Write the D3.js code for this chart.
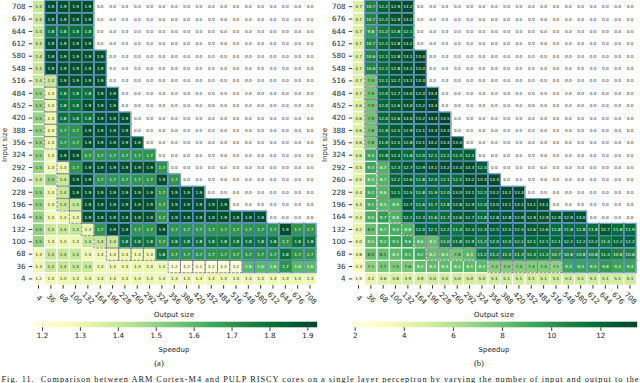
<!DOCTYPE html>
<html><head><meta charset="utf-8">
<script src="https://cdn.jsdelivr.net/npm/d3@7"></script>
<style>
html,body{margin:0;padding:0;background:#fff;overflow:hidden}
svg{display:block}
text{font-family:"DejaVu Sans",sans-serif;fill:#262626}
.domain{display:none}
</style></head><body>
<svg id="c" width="640" height="383"></svg>
<script>
const outputSizes = [4,36,68,100,132,164,196,228,260,292,324,356,388,420,452,484,516,548,580,612,644,676,708];
const inputSizes = [708,676,644,612,580,548,516,484,452,420,388,356,324,292,260,228,196,164,132,100,68,36,4];
const ylGnColors = ["#ffffe5","#f7fcb9","#d9f0a3","#addd8e","#78c679","#41ab5d","#238443","#006837","#004529"];
// leading non-zero values of each input-size row, remaining output sizes are 0.0
const speedupA = [
[1.4,1.9,1.9,1.9,1.9],
[1.4,1.9,1.9,1.9,1.9],
[1.4,1.8,1.8,1.8,1.8],
[1.4,1.9,1.9,1.9,1.9],
[1.4,1.9,1.9,1.9,1.9,1.9],
[1.4,1.9,1.9,1.9,1.9,1.9],
[1.4,1.4,1.9,1.9,1.9,1.9],
[1.5,1.3,1.8,1.8,1.8,1.9,1.9],
[1.5,1.3,1.8,1.8,1.9,1.9,1.9],
[1.5,1.3,1.8,1.8,1.8,1.9,1.9,1.9],
[1.5,1.3,1.7,1.7,1.9,1.9,1.9,1.9],
[1.5,1.3,1.7,1.7,1.9,1.9,1.9,1.9,1.9],
[1.5,1.3,1.9,1.9,1.7,1.7,1.7,1.7,1.7,1.7],
[1.5,1.3,1.3,1.7,1.9,1.9,1.9,1.9,1.9,1.9,1.7],
[1.4,1.5,1.4,1.9,1.9,1.7,1.7,1.7,1.7,1.7,1.9,1.7],
[1.5,1.3,1.4,1.9,1.9,1.9,1.9,1.9,1.9,1.9,1.7,1.9,1.9,1.9],
[1.5,1.3,1.4,1.4,1.9,1.9,1.9,1.9,1.9,1.9,1.7,1.9,1.9,1.9,1.9,1.9],
[1.5,1.3,1.3,1.3,1.9,1.9,1.9,1.9,1.9,1.9,1.7,1.9,1.9,1.9,1.9,1.9,1.9,1.9,1.9],
[1.5,1.4,1.4,1.4,1.3,1.7,1.9,1.9,1.7,1.7,1.9,1.7,1.7,1.7,1.7,1.7,1.7,1.7,1.7,1.7,1.9,1.7,1.7],
[1.5,1.3,1.3,1.3,1.4,1.4,1.4,1.8,1.8,1.8,1.7,1.8,1.8,1.8,1.8,1.8,1.8,1.8,1.8,1.8,1.7,1.8,1.8],
[1.3,1.4,1.4,1.4,1.3,1.3,1.3,1.3,1.3,1.3,1.8,1.7,1.7,1.7,1.7,1.7,1.7,1.7,1.7,1.7,1.8,1.7,1.7],
[1.3,1.4,1.4,1.4,1.4,1.3,1.3,1.3,1.3,1.3,1.3,1.2,1.2,1.2,1.2,1.2,1.2,1.6,1.6,1.6,1.7,1.6,1.6],
[1.2,1.3,1.3,1.3,1.3,1.3,1.3,1.3,1.3,1.3,1.3,1.3,1.3,1.3,1.3,1.3,1.3,1.3,1.3,1.3,1.3,1.3,1.3]
];
const speedupB = [
[4.7,10.7,12.2,12.9,13.2],
[4.7,10.7,12.2,12.9,13.2],
[4.7,9.8,11.2,11.8,12.1],
[4.7,10.7,12.2,12.8,13.2],
[4.7,10.6,12.1,12.8,13.1,13.4],
[4.7,10.6,12.1,12.8,13.1,13.4],
[4.7,7.9,12.1,12.7,13.1,13.3],
[4.7,7.9,12.0,12.7,13.0,13.3,13.4],
[4.6,7.9,12.0,12.6,13.0,13.2,13.4],
[4.6,7.9,12.0,12.6,13.0,13.2,13.3,13.5],
[4.6,7.8,11.9,12.5,12.9,13.1,13.3,13.4],
[4.6,7.8,11.9,12.5,12.8,13.1,13.2,13.4,13.4],
[4.6,9.4,11.8,12.4,11.8,12.0,12.1,12.2,12.3,12.4],
[4.5,9.3,8.7,12.3,12.7,12.9,13.1,13.2,13.3,13.3,12.4],
[4.5,8.4,8.7,12.2,12.6,11.8,12.0,12.1,12.1,13.2,13.3,13.3],
[4.4,9.2,8.6,12.1,12.5,11.8,11.9,12.0,13.0,13.1,12.2,13.2,13.2,13.3],
[4.4,9.1,8.5,8.9,12.7,11.6,11.7,11.8,12.8,12.9,12.0,13.0,13.1,13.1,13.1,13.1],
[4.3,9.0,9.7,8.8,12.1,12.3,11.6,11.7,12.6,12.7,11.8,12.8,12.8,12.9,12.9,12.9,12.9,12.9,13.0],
[4.2,8.0,8.7,9.0,8.8,12.0,12.1,12.2,11.4,12.4,12.4,12.5,12.5,12.5,12.6,12.6,11.8,11.8,11.8,11.8,12.7,11.8,11.9],
[4.0,8.5,9.2,9.5,9.6,8.6,8.2,11.0,11.8,11.9,11.2,12.0,12.0,12.1,12.1,12.1,12.1,12.2,12.2,12.2,11.4,12.2,12.2],
[3.8,8.0,8.1,8.3,9.1,9.2,8.2,8.3,7.8,8.4,11.2,11.2,11.3,11.3,11.3,11.3,10.7,10.8,10.8,10.8,11.4,10.8,10.8],
[3.3,7.1,7.7,7.5,7.6,8.2,8.3,8.3,8.4,8.4,8.4,7.3,7.4,7.4,7.4,7.4,7.1,9.3,9.4,9.4,9.8,9.4,9.4],
[1.9,4.2,4.6,4.8,4.9,4.9,5.0,5.0,5.0,5.0,5.0,5.1,5.1,5.1,5.1,5.1,5.1,5.1,5.1,5.1,5.1,5.1,5.1]
];
// per row: output-size index where the blue-outlined block starts (-1 = none)
const blueStart = [1,1,1,1,1,1,2,2,2,2,2,2,2,3,3,3,4,4,5,7,10,17,-1];
// per row: output-size indices outlined in grey
const greyCells = [[],[],[],[],[],[],[1],[1],[1],[1],[1],[1],[],[2],[2],[2],[2,3],[3],[4],[5,6],[6,7,8,9],[11,12,13,14,15,16],[]];
const ticksA = [1.2,1.3,1.4,1.5,1.6,1.7,1.8,1.9];
const ticksB = [2,4,6,8,10,12];
const caption = "Fig. 11.  Comparison between ARM Cortex-M4 and PULP RISCY cores on a single layer perceptron by varying the number of input and output to the";

const svg = d3.select("#c");

function colorScale(lo, hi){
  return d3.scaleLinear()
    .domain(ylGnColors.map((_, i) => lo + (hi - lo) * i / (ylGnColors.length - 1)))
    .range(ylGnColors).interpolate(d3.interpolateRgb).clamp(true);
}
function textColor(c){
  const o = d3.rgb(c);
  const f = v => { v /= 255; return v <= 0.03928 ? v / 12.92 : Math.pow((v + 0.055) / 1.055, 2.4); };
  const l = 0.2126 * f(o.r) + 0.7152 * f(o.g) + 0.0722 * f(o.b);
  return l > 0.408 ? "#262626" : "#ffffff";
}

function panel(dx, rows, lo, hi, ticks, tickFmt, sub, id){
  const g = svg.append("g").attr("transform", `translate(${dx},0)`);
  const x = d3.scaleBand().domain(outputSizes).range([32.33, 316.2]);
  const y = d3.scaleBand().domain(inputSizes).range([0.5, 285.1]);
  const color = colorScale(lo, hi);
  const cells = [];
  rows.forEach((r, ri) => outputSizes.forEach((o, ci) => {
    cells.push({ri, ci, o, i: inputSizes[ri], v: ci < r.length ? r[ci] : 0});
  }));
  g.selectAll("rect.cell").data(cells).join("rect").attr("class","cell")
    .attr("x", d => x(d.o)).attr("y", d => y(d.i))
    .attr("width", x.bandwidth()).attr("height", y.bandwidth())
    .attr("fill", d => d.v === 0 ? "#fff" : color(d.v))
    .attr("stroke", "#fff").attr("stroke-width", 1);
  const blue = cells.filter(d => d.v !== 0 && blueStart[d.ri] >= 0 && d.ci >= blueStart[d.ri]);
  g.selectAll("rect.blue").data(blue).join("rect").attr("class","blue")
    .attr("x", d => x(d.o)).attr("y", d => y(d.i))
    .attr("width", x.bandwidth()).attr("height", y.bandwidth())
    .attr("fill", "none").attr("stroke", "#3f78b5").attr("stroke-opacity", 0.85).attr("stroke-width", 0.9);
  const grey = cells.filter(d => greyCells[d.ri].includes(d.ci));
  g.selectAll("rect.grey").data(grey).join("rect").attr("class","grey")
    .attr("x", d => x(d.o)).attr("y", d => y(d.i))
    .attr("width", x.bandwidth()).attr("height", y.bandwidth())
    .attr("fill", "none").attr("stroke", "#808080").attr("stroke-width", 0.9).attr("stroke-dasharray", "3 1");
  g.selectAll("text.val").data(cells).join("text").attr("class","val")
    .attr("x", d => x(d.o) + x.bandwidth() / 2).attr("y", d => y(d.i) + y.bandwidth() / 2)
    .attr("dy", "0.36em").attr("text-anchor", "middle").attr("font-size", 4.2)
    .style("fill", d => d.v === 0 ? "#262626" : textColor(color(d.v)))
    .text(d => d.v.toFixed(1));

  const ya = g.append("g").attr("transform", "translate(32.3,0)")
    .call(d3.axisLeft(y).tickSize(3.5).tickPadding(3.2));
  ya.selectAll("text").attr("font-size", 7.2).attr("font-family", '"DejaVu Sans"').style("fill", "#262626");
  ya.selectAll("line").attr("stroke", "#262626").attr("stroke-width", 0.9);

  const xa = g.append("g").attr("transform", "translate(0,285.1)")
    .call(d3.axisBottom(x).tickSize(3.5));
  xa.selectAll("line").attr("stroke", "#262626").attr("stroke-width", 0.9);
  xa.selectAll("text").attr("font-size", 7.2).attr("font-family", '"DejaVu Sans"').style("fill", "#262626")
    .attr("text-anchor", "middle").attr("y", 0).attr("dy", "0.36em")
    .attr("transform", "translate(0.6,13) rotate(45)");

  g.append("text").attr("transform", "translate(6,145) rotate(-90)").attr("text-anchor","middle")
    .attr("dy", "0.1em").attr("font-size", 7).text("Input size");
  g.append("text").attr("x", 174).attr("y", 317).attr("text-anchor","middle").attr("font-size", 7).text("Output size");

  // colour bar
  const cb = d3.scaleLinear().domain([lo, hi]).range([32.2, 317.2]);
  const defs = svg.append("defs").append("linearGradient").attr("id", id);
  ylGnColors.forEach((c, i) => defs.append("stop").attr("offset", i / (ylGnColors.length - 1)).attr("stop-color", c));
  g.append("rect").attr("x", cb(lo)).attr("y", 321.7).attr("width", cb(hi) - cb(lo)).attr("height", 5.6)
    .attr("fill", `url(#${id})`);
  const ca = g.append("g").attr("transform", "translate(0,327.3)")
    .call(d3.axisBottom(cb).tickValues(ticks).tickFormat(tickFmt).tickSize(3.5).tickPadding(2.5));
  ca.selectAll("line").attr("stroke", "#262626").attr("stroke-width", 0.9);
  ca.selectAll("text").attr("font-size", 7.2).attr("font-family", '"DejaVu Sans"').style("fill", "#262626");
  g.append("text").attr("x", 174).attr("y", 351.5).attr("text-anchor","middle").attr("font-size", 7).text("Speedup");
  g.append("text").attr("x", 159).attr("y", 366).attr("text-anchor","middle").attr("font-size", 8.5)
    .style("font-family", '"Liberation Serif",serif').text(sub);
}

panel(0, speedupA, 1.174, 1.926, ticksA, d3.format(".1f"), "(a)", "gradA");
panel(320, speedupB, 1.9, 13.5, ticksB, d3.format("d"), "(b)", "gradB");

svg.append("text").attr("x", 1.5).attr("y", 381.5).attr("font-size", 8.3).attr("xml:space","preserve")
  .attr("textLength", 637).attr("lengthAdjust", "spacing")
  .style("font-family", '"Liberation Serif",serif').style("fill","#1a1a1a").text(caption);
</script>
</body></html>
